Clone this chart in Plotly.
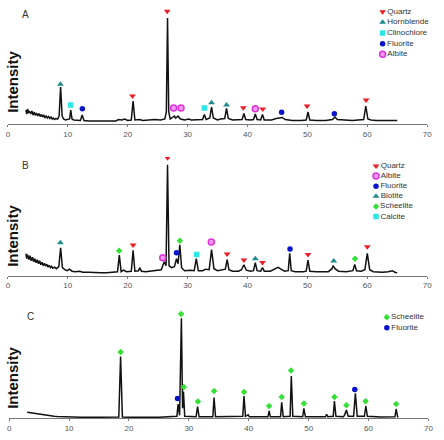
import plotly.graph_objects as go

W, H = 444, 440

# ---------------- DATA (2-theta in degrees, intensity in arbitrary units) ----------------
# Panel A pattern
a_x = [3.0, 3.15, 3.3, 3.45, 3.6, 3.8, 4.0, 4.2, 4.4, 4.6, 4.8, 5.0, 5.2, 5.4, 5.6, 5.8, 6.0, 6.2, 6.4,
       6.6, 6.8, 7.0, 7.2, 7.4, 7.6, 7.8, 8.0, 8.3, 8.55, 8.8, 9.05, 9.3, 9.6, 10.0, 10.3, 10.5, 10.7,
       11.0, 11.5, 12.1, 12.4, 12.7, 13.5, 15.0, 16.5, 18.0, 18.5, 19.0, 19.5, 20.0, 20.6, 20.9, 21.2,
       22.0, 22.5, 23.5, 24.5, 25.5, 26.2, 26.45, 26.65, 26.85, 27.1, 27.8, 28.0, 28.4, 28.8, 29.5,
       30.2, 30.6, 31.5, 32.5, 32.8, 33.1, 33.7, 34.0, 34.3, 35.0, 35.5, 36.2, 36.5, 36.8, 37.5, 38.5,
       39.1, 39.4, 39.7, 40.5, 41.0, 41.3, 41.6, 42.2, 42.5, 42.8, 44.0, 44.8, 45.4, 45.8, 46.3, 47.5,
       49.0, 49.8, 50.1, 50.4, 51.5, 53.0, 54.2, 54.6, 55.0, 56.0, 57.5, 59.4, 59.75, 60.1, 60.6,
       61.5, 63.0, 64.0, 65.0]
a_y = [14, 10, 15, 11, 13, 10, 13, 9, 12, 8.5, 11, 8, 10.5, 7.5, 9.5, 7, 9, 6.5, 8,
       6, 7.5, 5.5, 7, 5, 6, 4.5, 5.5, 5, 8, 37, 8, 5, 4, 4.5, 5, 14, 5,
       4, 3.5, 3.5, 9, 3.5, 3, 3, 3, 3, 4.5, 4, 5, 3.5, 4, 23, 4,
       4.5, 3.5, 4, 4.5, 4, 5, 12, 106, 12, 5, 8, 6, 8, 5, 4,
       5, 4, 4, 4.5, 9.5, 4.5, 6, 17, 6, 4, 5, 5.5, 15.5, 5.5, 4, 4,
       4.5, 10.5, 4.5, 4, 4.5, 10, 4.5, 4, 9.5, 4, 4, 5.5, 6.5, 6.5, 4.5, 3.5,
       3.5, 4, 12, 4, 3.5, 3.5, 4.5, 7, 4.5, 4, 3.5, 4.5, 18, 5, 4,
       3.5, 3.5, 4, 3.5]

# Panel B pattern
b_x = [3.0, 3.15, 3.3, 3.5, 3.7, 3.9, 4.1, 4.3, 4.5, 4.7, 4.9, 5.1, 5.3, 5.5, 5.7, 5.9, 6.1, 6.3, 6.5,
       6.7, 6.9, 7.1, 7.3, 7.5, 7.8, 8.1, 8.5, 8.8, 9.1, 9.5, 9.9, 10.3, 10.7, 11.2, 12.0, 12.5, 13.5,
       14.5, 15.5, 16.5, 17.5, 18.3, 18.6, 18.9, 19.3, 19.8, 20.6, 20.9, 21.2, 21.8, 22.0, 22.3, 23.0,
       24.0, 25.0, 25.6, 26.1, 26.4, 26.65, 26.9, 27.3, 27.8, 28.15, 28.4, 28.7, 29.0, 29.5, 30.5,
       31.1, 31.45, 31.8, 32.5, 33.0, 33.6, 34.0, 34.4, 35.0, 35.7, 36.3, 36.6, 36.9, 37.5, 38.5,
       39.0, 39.4, 39.8, 40.5, 41.0, 41.3, 41.6, 42.2, 42.5, 42.8, 43.8, 44.6, 45.1, 45.6, 46.2,
       46.8, 47.05, 47.3, 48.0, 49.3, 49.8, 50.1, 50.4, 51.5, 52.5, 53.5, 54.1, 54.3, 54.6, 55.2,
       56.5, 57.6, 57.9, 58.2, 59.0, 59.6, 60.0, 60.4, 61.0, 62.5, 63.5, 64.2, 64.6, 65.0]
b_y = [22, 17, 21, 16, 20, 15, 18.5, 14, 17, 13, 16, 12, 15, 11, 13.5, 10, 12.5, 9.5, 11.5,
       8.5, 10.5, 8, 9.5, 7.5, 8.5, 7, 9, 28, 8, 6, 5, 6.5, 4.5, 4, 4.5, 3.5, 3.5,
       3, 3, 3, 3.5, 4, 20.5, 4, 5.5, 4, 4.5, 25.5, 4.5, 5, 8, 4.5, 4,
       4.5, 5, 6, 14, 10, 111, 10, 8, 9, 17, 12, 31, 8, 5, 5.5,
       5, 17, 5, 5, 6.5, 6, 26, 7, 5, 5.5, 6.5, 16, 6, 4.5, 4.5,
       6, 11, 5.5, 4.5, 5, 13, 5, 4.5, 8, 4.5, 4.5, 6.5, 8.3, 6.5, 4.5,
       5, 22.3, 5, 4, 4, 4.5, 15.7, 4.5, 4, 4, 4, 7, 10, 7, 4.5,
       4, 5, 11.3, 5, 4.5, 6, 22.3, 6, 4, 3.5, 4, 5, 3.5, 3]

# Panel C pattern
c_x = [3.0, 3.5, 4.0, 4.5, 5.0, 5.5, 6.0, 6.5, 7.0, 7.5, 8.0, 9.0, 10.0, 12.0, 15.0, 18.3, 18.6, 18.9,
       20.0, 25.0, 28.0, 28.2, 28.45, 28.75, 28.95, 29.1, 29.3, 31.2, 31.45, 31.7, 34.0, 34.2, 34.45,
       39.0, 39.2, 39.45, 39.9, 40.1, 43.2, 43.4, 43.6, 45.3, 45.5, 45.75, 46.9, 47.1, 47.35, 49.0,
       49.2, 49.45, 52.8, 53.0, 53.2, 54.1, 54.3, 54.55, 55.8, 56.0, 56.3, 56.6, 57.5, 57.8, 58.1,
       59.3, 59.55, 59.8, 62.0, 64.4, 64.6, 64.85, 65.0]
c_y = [6, 5.5, 5, 4.5, 4, 3.5, 3, 2.7, 2.4, 2.1, 1.8, 1.5, 1.2, 1, 1, 1.2, 61.7, 1.2,
       1, 1, 2, 14.3, 3, 100, 10, 26.7, 2, 1.5, 11.7, 1.5, 1.5, 20.7, 1.5,
       2, 22.3, 2, 3.5, 1.5, 1.5, 7.3, 1.5, 1.5, 16, 1.5, 2, 42.3, 2, 1.5,
       10, 1.5, 1.5, 4, 1.5, 2, 17.3, 2, 1.5, 3.5, 8.3, 2, 2, 25, 2,
       2, 12.3, 2, 1.2, 1.5, 9.3, 1.5, 1.2]

# Phase markers: (2-theta, intensity) per mineral
a_quartz_x = [20.8, 26.6, 39.3, 42.55, 49.95, 59.8]
a_quartz_y = [28, 112.7, 16.3, 15, 18, 24]
a_hornblende_x = [8.76, 34.0, 36.5]
a_hornblende_y = [39.7, 21.3, 19]
a_clinochlore_x = [10.46, 32.8]
a_clinochlore_y = [19, 16]
a_fluorite_x = [12.43, 45.7, 54.5]
a_fluorite_y = [15.3, 11.7, 10.3]
a_albite_x = [27.66, 28.9, 41.3]
a_albite_y = [16, 16, 15.3]

b_quartz_x = [20.9, 26.65, 36.6, 39.4, 42.5, 50.1, 60.0]
b_quartz_y = [30.7, 118, 21.7, 15.7, 13.3, 21.3, 29]
b_albite_x = [25.85, 33.96]
b_albite_y = [18, 33.7]
b_fluorite_x = [28.15, 47.1]
b_fluorite_y = [23, 26.7]
b_biotite_x = [8.76, 41.3, 54.4]
b_biotite_y = [33, 17, 14.7]
b_scheelite_x = [18.57, 28.7, 57.95]
b_scheelite_y = [25, 35, 17]
b_calcite_x = [31.5]
b_calcite_y = [21.3]

c_scheelite_x = [18.6, 28.7, 29.15, 31.5, 34.2, 39.2, 43.4, 45.5, 47.05, 49.2, 54.3, 56.3, 59.5, 64.6]
c_scheelite_y = [66.3, 104.3, 31.3, 16.7, 27.3, 26.3, 12.3, 21.3, 47.7, 14.7, 21.3, 13, 17, 14.3]
c_fluorite_x = [28.1, 57.7]
c_fluorite_y = [19.7, 28.7]

x_ticks = [0, 10, 20, 30, 40, 50, 60, 70]
panel_labels = ["A", "B", "C"]
y_title = "Intensity"

# ---------------- STYLES ----------------
STY = {
    "Quartz": dict(symbol="triangle-down", size=6, color="#ee1c24", line=dict(width=0)),
    "Hornblende": dict(symbol="triangle-up", size=6, color="#1f8a8a", line=dict(width=0)),
    "Biotite": dict(symbol="triangle-up", size=6, color="#1f8a8a", line=dict(width=0)),
    "Clinochlore": dict(symbol="square", size=5.5, color="#2ee6e6", line=dict(width=0)),
    "Calcite": dict(symbol="square", size=5.5, color="#2ee6e6", line=dict(width=0)),
    "Fluorite": dict(symbol="circle", size=5.5, color="#0a14c8", line=dict(width=0)),
    "Albite": dict(symbol="circle", size=6, color="#f49af4", line=dict(width=1.5, color="#dd33dd")),
    "Scheelite": dict(symbol="diamond", size=5, color="#33e033", line=dict(width=0)),
}

# panel geometry in px: (axis line y, top y, x0 px, x70 px)
GEO = [(124.0, 6.0, 6.0, 432.0), (275.7, 157.0, 6.0, 432.0), (418.3, 300.0, 7.3, 433.3)]

fig = go.Figure()

panels = [
    (a_x, a_y, [("Quartz", a_quartz_x, a_quartz_y), ("Hornblende", a_hornblende_x, a_hornblende_y),
                ("Clinochlore", a_clinochlore_x, a_clinochlore_y), ("Fluorite", a_fluorite_x, a_fluorite_y),
                ("Albite", a_albite_x, a_albite_y)]),
    (b_x, b_y, [("Quartz", b_quartz_x, b_quartz_y), ("Albite", b_albite_x, b_albite_y),
                ("Fluorite", b_fluorite_x, b_fluorite_y), ("Biotite", b_biotite_x, b_biotite_y),
                ("Scheelite", b_scheelite_x, b_scheelite_y), ("Calcite", b_calcite_x, b_calcite_y)]),
    (c_x, c_y, [("Scheelite", c_scheelite_x, c_scheelite_y), ("Fluorite", c_fluorite_x, c_fluorite_y)]),
]

# legend geometry (px): marker x, first row y, row spacing
LEG = [(386.7, 11.7, 10.65), (380.0, 166.0, 10.1), (391.0, 317.3, 10.4)]

for i, (px, py, phases) in enumerate(panels):
    sfx = "" if i == 0 else str(i + 1)
    xa, ya = "x" + sfx, "y" + sfx
    axis_py, top_py, x0, x70 = GEO[i]
    fig.add_trace(go.Scatter(x=px, y=py, mode="lines", line=dict(color="#111111", width=1.5),
                             xaxis=xa, yaxis=ya, showlegend=False, hoverinfo="skip"))
    for name, mx, my in phases:
        fig.add_trace(go.Scatter(x=mx, y=my, mode="markers", marker=STY[name], name=name,
                                 xaxis=xa, yaxis=ya, showlegend=False))
    # custom compact legend
    lx_px, ly0, dy = LEG[i]
    scale = (x70 - x0) / 70.0
    for k, (name, _, _) in enumerate(phases):
        row_py = ly0 + k * dy
        fig.add_trace(go.Scatter(x=[(lx_px - x0) / scale], y=[axis_py - row_py], mode="markers+text",
                                 marker=STY[name], text=[name], textposition="middle right",
                                 textfont=dict(size=8, color="#333333", family="Liberation Sans, Arial"),
                                 xaxis=xa, yaxis=ya, showlegend=False, hoverinfo="skip", cliponaxis=False))
    dom_x = [x0 / W, x70 / W]
    dom_y = [1 - axis_py / H, 1 - top_py / H]
    fig.layout["xaxis" + sfx] = dict(domain=dom_x, range=[0, 70], anchor=ya, tickvals=x_ticks,
                                     showline=True, linecolor="#777777", linewidth=1, ticks="outside",
                                     ticklen=2, tickcolor="#777777", showgrid=False, zeroline=False,
                                     tickfont=dict(size=8, color="#555555", family="Liberation Sans, Arial"),
                                     fixedrange=True)
    fig.layout["yaxis" + sfx] = dict(domain=dom_y, range=[0, axis_py - top_py], anchor=xa,
                                     showticklabels=False, showgrid=False, zeroline=False,
                                     showline=False, ticks="", fixedrange=True)

# panel letters
lab_pos = [(24, 15), (24, 165), (29, 316)]
for lab, (lx, ly) in zip(panel_labels, lab_pos):
    fig.add_annotation(x=lx / W, y=1 - ly / H, xref="paper", yref="paper", text=lab, showarrow=False,
                       xanchor="center", yanchor="middle",
                       font=dict(size=10, color="#333333", family="Liberation Sans, Arial"))
# y titles
for cy in [82, 236, 378]:
    fig.add_annotation(x=10 / W, y=1 - cy / H, xref="paper", yref="paper", text="<b>" + y_title + "</b>",
                       showarrow=False, textangle=-90, xanchor="center", yanchor="middle",
                       font=dict(size=15, color="#111111", family="Liberation Sans, Arial"))

fig.update_layout(width=W, height=H, margin=dict(l=0, r=0, t=0, b=0), paper_bgcolor="white",
                  plot_bgcolor="white", showlegend=False)

fig.write_html("out.html")
